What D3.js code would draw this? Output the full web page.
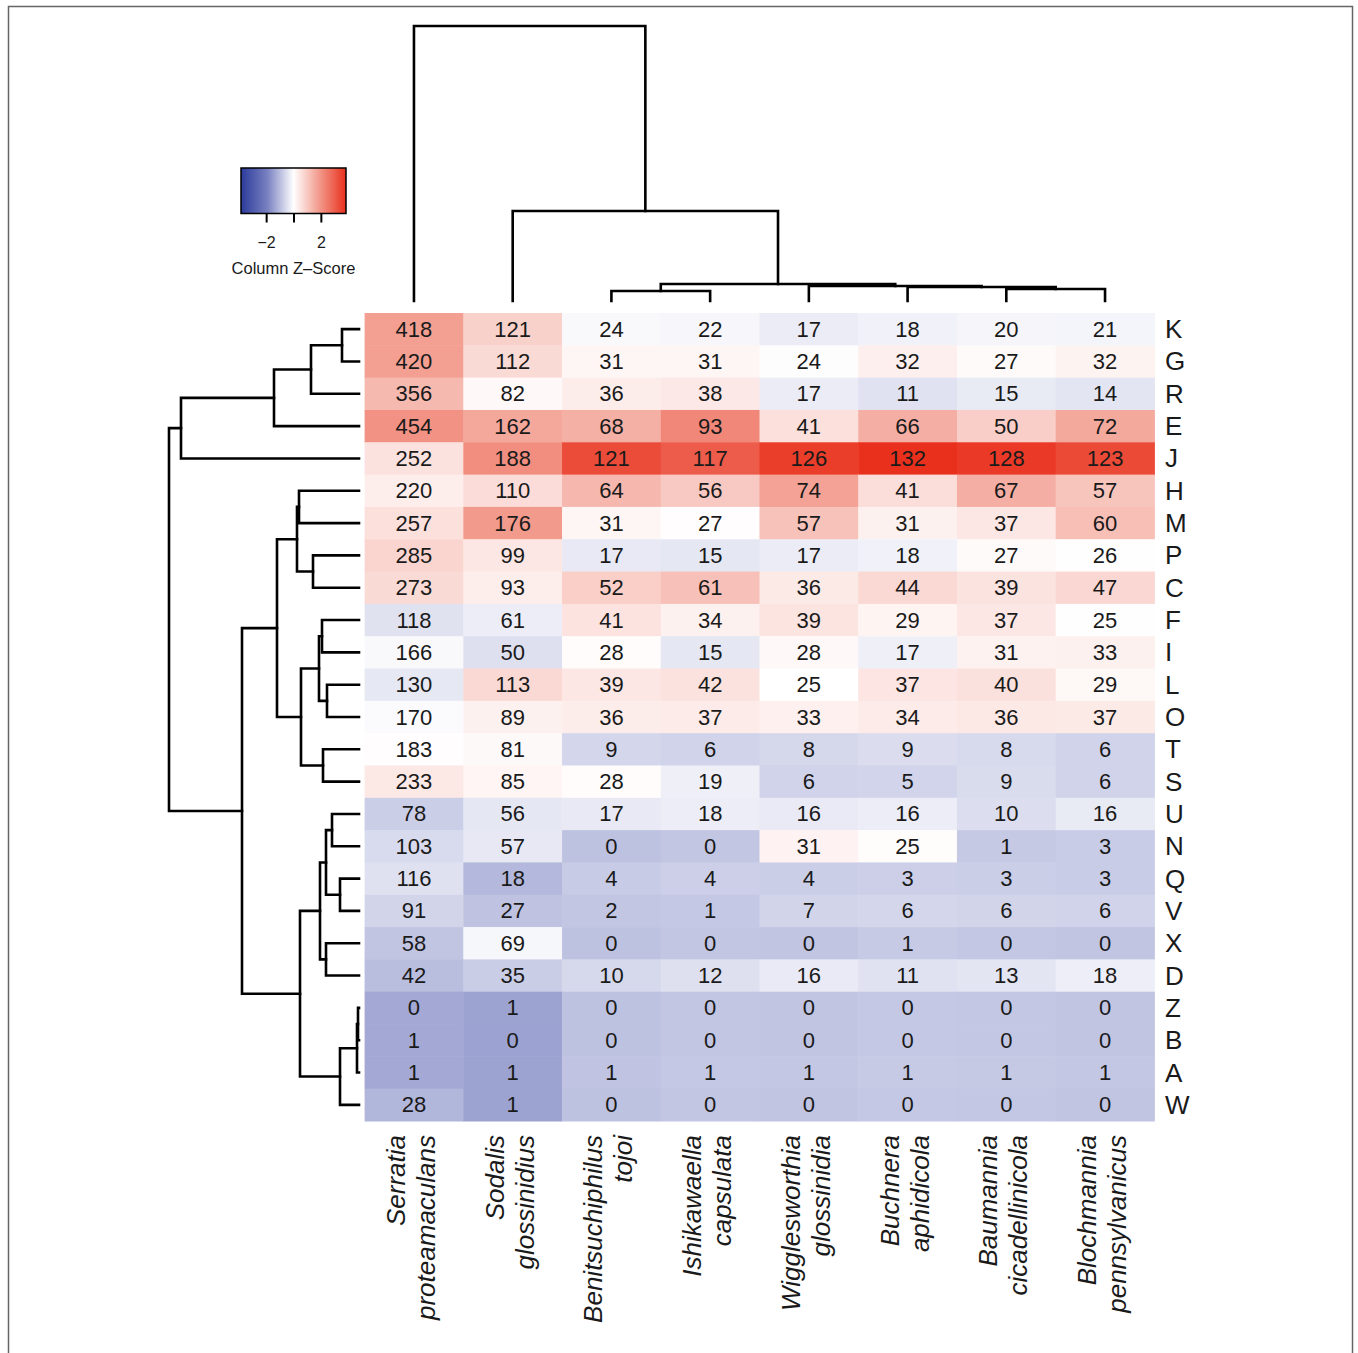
<!DOCTYPE html>
<html>
<head>
<meta charset="utf-8">
<script src="https://cdn.jsdelivr.net/npm/d3@7"></script>
<style>
  body { margin: 0; background: #fff; }
  svg { display: block; font-family: "Liberation Sans", Arial, Helvetica, sans-serif; }
</style>
</head>
<body>
<div id="chart"></div>
<script>
// Column (genome) labels, two lines each
var genus   = ["Serratia", "Sodalis", "Benitsuchiphilus", "Ishikawaella", "Wigglesworthia", "Buchnera", "Baumannia", "Blochmannia"];
var species = ["proteamaculans", "glossinidius", "tojoi", "capsulata", "glossinidia", "aphidicola", "cicadellinicola", "pennsylvanicus"];

// Row (COG category) labels, in the order shown
var rowLabels = ["K","G","R","E","J","H","M","P","C","F","I","L","O","T","S","U","N","Q","V","X","D","Z","B","A","W"];

// Gene counts, one row per category, columns in genome order
var counts = [
  [418, 121,  24,  22,  17,  18,  20,  21],
  [420, 112,  31,  31,  24,  32,  27,  32],
  [356,  82,  36,  38,  17,  11,  15,  14],
  [454, 162,  68,  93,  41,  66,  50,  72],
  [252, 188, 121, 117, 126, 132, 128, 123],
  [220, 110,  64,  56,  74,  41,  67,  57],
  [257, 176,  31,  27,  57,  31,  37,  60],
  [285,  99,  17,  15,  17,  18,  27,  26],
  [273,  93,  52,  61,  36,  44,  39,  47],
  [118,  61,  41,  34,  39,  29,  37,  25],
  [166,  50,  28,  15,  28,  17,  31,  33],
  [130, 113,  39,  42,  25,  37,  40,  29],
  [170,  89,  36,  37,  33,  34,  36,  37],
  [183,  81,   9,   6,   8,   9,   8,   6],
  [233,  85,  28,  19,   6,   5,   9,   6],
  [ 78,  56,  17,  18,  16,  16,  10,  16],
  [103,  57,   0,   0,  31,  25,   1,   3],
  [116,  18,   4,   4,   4,   3,   3,   3],
  [ 91,  27,   2,   1,   7,   6,   6,   6],
  [ 58,  69,   0,   0,   0,   1,   0,   0],
  [ 42,  35,  10,  12,  16,  11,  13,  18],
  [  0,   1,   0,   0,   0,   0,   0,   0],
  [  1,   0,   0,   0,   0,   0,   0,   0],
  [  1,   1,   1,   1,   1,   1,   1,   1],
  [ 28,   1,   0,   0,   0,   0,   0,   0]
];

// Dendrograms: [height, left, right], leaves are row / column indexes
var colTree = [275, 0, [90, 1, [17, [10, 2, 3], [15, 4, [14, 5, [12, 6, 7]]]]]];
var rowTree = [190,
  [178, [85, [48, [17, 0, 1], 2], 3], 4],
  [117,
    [82, [62, [60, 5, 6], [46, 7, 8]],
         [58, [40, [37, 9, 10], [32, 11, 12]], [36, 13, 14]]],
    [59, [39, [33, [27, 15, 16], [19, 17, 18]], [33, 19, 20]],
         [19, [2, [1, 21, 22], 23], 24]]]];

var keyTicks = [-2, 0, 2];

var W = 1358, H = 1353;
var svg = d3.select("#chart").append("svg")
    .attr("width", W)
    .attr("height", H);

// frame
svg.append("rect")
    .attr("x", 8.5).attr("y", 6.5)
    .attr("width", 1344).attr("height", 1400)
    .attr("fill", "none")
    .attr("stroke", "#666")
    .attr("stroke-width", 1.5);

var nCol = genus.length, nRow = rowLabels.length;

var x = d3.scaleBand().domain(d3.range(nCol)).range([364.6, 1154.4]);
var y = d3.scaleBand().domain(d3.range(nRow)).range([313, 1121]);

// column z-scores
var z = counts.map(function(r) { return r.slice(); });
for (var j = 0; j < nCol; j++) {
  var col = counts.map(function(r) { return r[j]; });
  var m = d3.mean(col), s = d3.deviation(col);
  for (var i = 0; i < nRow; i++) z[i][j] = (counts[i][j] - m) / s;
}
var zmax = d3.max(z, function(r) { return d3.max(r, function(v) { return Math.abs(v); }); });

var color = d3.scaleLinear()
    .domain([-zmax, -zmax / 2, 0, zmax / 2, zmax])
    .range(["#2b3b9b", "#7880c0", "#ffffff", "#f2988a", "#e9301c"]);

// cells
var cells = svg.append("g");
counts.forEach(function(row, i) {
  row.forEach(function(v, j) {
    cells.append("rect")
        .attr("x", x(j)).attr("y", y(i))
        .attr("width", x.bandwidth() + 0.5)
        .attr("height", y.bandwidth() + 0.5)
        .attr("fill", color(z[i][j]));
    cells.append("text")
        .attr("x", x(j) + x.bandwidth() / 2)
        .attr("y", y(i) + y.bandwidth() / 2)
        .attr("text-anchor", "middle")
        .attr("dominant-baseline", "central")
        .attr("font-size", 22)
        .attr("fill", "#1a1a1a")
        .text(v);
  });
});

// row labels
svg.append("g").selectAll("text")
  .data(rowLabels)
  .join("text")
    .attr("x", 1165)
    .attr("y", function(d, i) { return y(i) + y.bandwidth() / 2; })
    .attr("dominant-baseline", "central")
    .attr("font-size", 26)
    .attr("fill", "#1a1a1a")
    .text(function(d) { return d; });

// column labels (rotated, two lines)
var colLab = svg.append("g").selectAll("g")
  .data(genus)
  .join("g")
    .attr("transform", function(d, j) {
      return "translate(" + (x(j) + x.bandwidth() / 2) + ",1135) rotate(-90)";
    })
    .attr("font-size", 26)
    .attr("font-style", "italic")
    .attr("fill", "#1a1a1a")
    .attr("text-anchor", "end");
colLab.append("text").attr("y", -9).text(function(d) { return d; });
colLab.append("text").attr("y", 21).text(function(d, j) { return species[j]; });

// dendrograms
var dend = svg.append("g")
    .attr("fill", "none")
    .attr("stroke", "#000")
    .attr("stroke-width", 2.6)
    .attr("stroke-linecap", "square");

var hy = d3.scaleLinear().domain([0, 275]).range([301, 26]);
function drawCol(n) {
  if (typeof n === "number") return { p: x(n) + x.bandwidth() / 2, h: 0 };
  var a = drawCol(n[1]), b = drawCol(n[2]);
  dend.append("path").attr("d",
    "M" + a.p + "," + hy(a.h) + "V" + hy(n[0]) + "H" + b.p + "V" + hy(b.h));
  return { p: (a.p + b.p) / 2, h: n[0] };
}
drawCol(colTree);

var hx = d3.scaleLinear().domain([0, 190]).range([359, 169]);
function drawRow(n) {
  if (typeof n === "number") return { p: y(n) + y.bandwidth() / 2, h: 0 };
  var a = drawRow(n[1]), b = drawRow(n[2]);
  dend.append("path").attr("d",
    "M" + hx(a.h) + "," + a.p + "H" + hx(n[0]) + "V" + b.p + "H" + hx(b.h));
  return { p: (a.p + b.p) / 2, h: n[0] };
}
drawRow(rowTree);

// colour key
var kx = d3.scaleLinear().domain([-zmax, zmax]).range([241, 346]);
var grad = svg.append("defs").append("linearGradient").attr("id", "keygrad");
color.domain().forEach(function(v) {
  grad.append("stop")
      .attr("offset", ((v + zmax) / (2 * zmax) * 100) + "%")
      .attr("stop-color", color(v));
});
svg.append("rect")
    .attr("x", 241).attr("y", 168)
    .attr("width", 105).attr("height", 45.5)
    .attr("fill", "url(#keygrad)")
    .attr("stroke", "#000")
    .attr("stroke-width", 1.5);
var keyAxis = svg.append("g")
    .attr("transform", "translate(0,213.5)")
    .call(d3.axisBottom(kx).tickValues(keyTicks).tickSize(9).tickPadding(14)
          .tickFormat(function(d) { return d === 0 ? "" : d3.format("")(d); }));
keyAxis.select(".domain").remove();
keyAxis.selectAll("line").attr("stroke-width", 2);
keyAxis.selectAll("text").attr("font-size", 16).attr("fill", "#1a1a1a")
    .attr("font-family", "Liberation Sans, Arial, sans-serif");
svg.append("text")
    .attr("x", 293.5).attr("y", 274)
    .attr("text-anchor", "middle")
    .attr("font-size", 16.5)
    .attr("fill", "#1a1a1a")
    .text("Column Z\u2013Score");
</script>
</body>
</html>
